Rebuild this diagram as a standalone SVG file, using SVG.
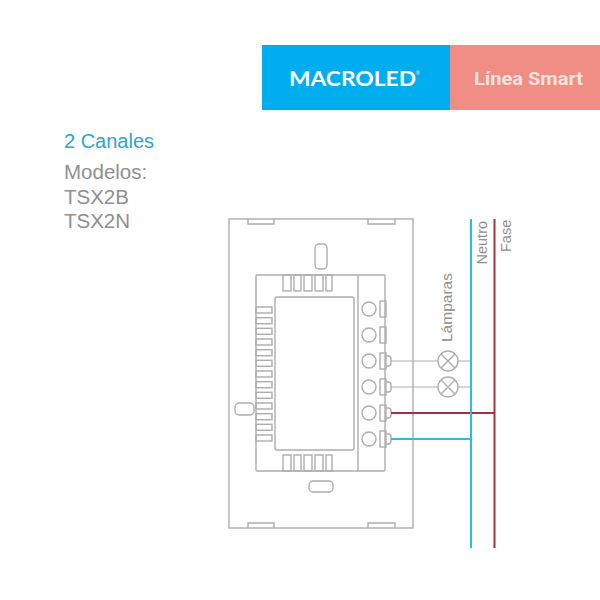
<svg xmlns="http://www.w3.org/2000/svg" width="600" height="600" viewBox="0 0 600 600">
<style>
.o{fill:none;stroke:#adadad;stroke-width:1.4}
.w{fill:#fff;stroke:#adadad;stroke-width:1.4}
.g{fill:none;stroke:#adadad;stroke-width:1.2}
.t{font-family:"Liberation Sans",Arial,sans-serif}
.lab{font-family:"Liberation Sans",Arial,sans-serif;fill:#8f8f8f}
.mod{font-family:"Liberation Sans",Arial,sans-serif;font-size:20.500px;fill:#8f8f8f}
</style>
<rect width="600" height="600" fill="#fff"/>
<g id="banner">
<rect x="262" y="45" width="188" height="65" fill="#00aeef"/>
<rect x="450" y="45" width="150" height="65" fill="#f08d84"/>
<text x="289" y="86" font-family="Lato,sans-serif" font-size="21" font-weight="700" fill="#fff" textLength="127" lengthAdjust="spacingAndGlyphs">MACROLED</text>
<text class="t" x="416" y="75" font-size="5" fill="#fff">®</text>
<text x="474" y="85" font-family="Roboto,sans-serif" font-size="18" font-weight="700" fill="#fbe3df" textLength="109" lengthAdjust="spacingAndGlyphs">Línea Smart</text>
</g>
<g id="titles">
<text class="t" x="64" y="148" font-size="20" fill="#2ba6cf">2 Canales</text>
<text class="mod" x="64" y="179">Modelos:</text>
<text class="mod" x="64" y="203.500">TSX2B</text>
<text class="mod" x="64" y="227.500">TSX2N</text>
</g>
<g id="device">
<rect class="o" x="229" y="219" width="184" height="309"/>
<path class="o" d="M248 219v5h26v-5M368 219v5h27v-5M248 528v-5h26v5M368 528v-5h27v5"/>
<rect class="o" x="315" y="244" width="12" height="25" rx="4"/>
<rect class="w" x="235" y="403" width="19" height="12" rx="4"/>
<rect class="o" x="309" y="481" width="24" height="11" rx="4"/>
<rect class="o" x="256" y="275" width="129" height="196" rx="1"/>
<path class="o" d="M358 275V471"/>
<g id="fins-top" class="o">
<rect x="283" y="275" width="8" height="16"/><rect x="294" y="275" width="7" height="16"/><rect x="304" y="275" width="8" height="16"/><rect x="315" y="275" width="8" height="16"/><rect x="326" y="275" width="6" height="16"/>
</g>
<g id="fins-bottom" class="o">
<rect x="283" y="455" width="8" height="16"/><rect x="294" y="455" width="7" height="16"/><rect x="304" y="455" width="8" height="16"/><rect x="315" y="455" width="8" height="16"/><rect x="326" y="455" width="6" height="16"/>
</g>
<g id="fins-left" class="o">
<rect x="256" y="307" width="16" height="6"/><rect x="256" y="317.700" width="16" height="6"/><rect x="256" y="328.300" width="16" height="6"/><rect x="256" y="339" width="16" height="6"/><rect x="256" y="349.700" width="16" height="6"/><rect x="256" y="360.300" width="16" height="6"/><rect x="256" y="371" width="16" height="6"/><rect x="256" y="381.700" width="16" height="6"/><rect x="256" y="392.300" width="16" height="6"/><rect x="256" y="403" width="16" height="6"/><rect x="256" y="413.700" width="16" height="6"/><rect x="256" y="424.300" width="16" height="6"/><rect x="256" y="435" width="16" height="6"/>
</g>
<rect class="w" x="275" y="297" width="79" height="153" rx="2"/>
</g>
<g id="terminals" class="o">
<circle cx="369" cy="309" r="7"/><circle cx="369" cy="335" r="7"/><circle cx="369" cy="361" r="7"/><circle cx="369" cy="387" r="7"/><circle cx="369" cy="413" r="7"/><circle cx="369" cy="439" r="7"/>
<rect x="380" y="301" width="6" height="16"/><rect x="380" y="327" width="6" height="16"/><rect x="380" y="353" width="6" height="16"/><rect x="380" y="379" width="6" height="16"/><rect x="380" y="405" width="6" height="16"/><rect x="380" y="431" width="6" height="16"/>
<path d="M386 356h2a3 3 0 0 1 3 3v4a3 3 0 0 1-3 3h-2M386 382h2a3 3 0 0 1 3 3v4a3 3 0 0 1-3 3h-2M386 408h2a3 3 0 0 1 3 3v4a3 3 0 0 1-3 3h-2M386 434h2a3 3 0 0 1 3 3v4a3 3 0 0 1-3 3h-2"/>
</g>
<g id="connectors" fill="none">
<path class="g" d="M391 361H438M458 361H471M391 387H438M458 387H471"/>
<path d="M391 413H494" stroke="#a3323f" stroke-width="2"/>
<path d="M391 439H471" stroke="#29bde0" stroke-width="2"/>
<path d="M471 219V548" stroke="#29bde0" stroke-width="2"/>
<path d="M494.500 219V548" stroke="#a3323f" stroke-width="2"/>
</g>
<g id="lamp1" class="o">
<circle cx="448" cy="361" r="10"/><path d="M441 354l14 14M455 354l-14 14"/>
</g>
<g id="lamp2" class="o">
<circle cx="448" cy="387" r="10"/><path d="M441 380l14 14M455 380l-14 14"/>
</g>
<g id="labels">
<text class="lab" font-size="15.500" transform="translate(452 342) rotate(-90)">Lámparas</text>
<text class="lab" font-size="14.500" transform="translate(487 264.500) rotate(-90)">Neutro</text>
<text class="lab" font-size="14.500" transform="translate(511 252) rotate(-90)">Fase</text>
</g>
</svg>
